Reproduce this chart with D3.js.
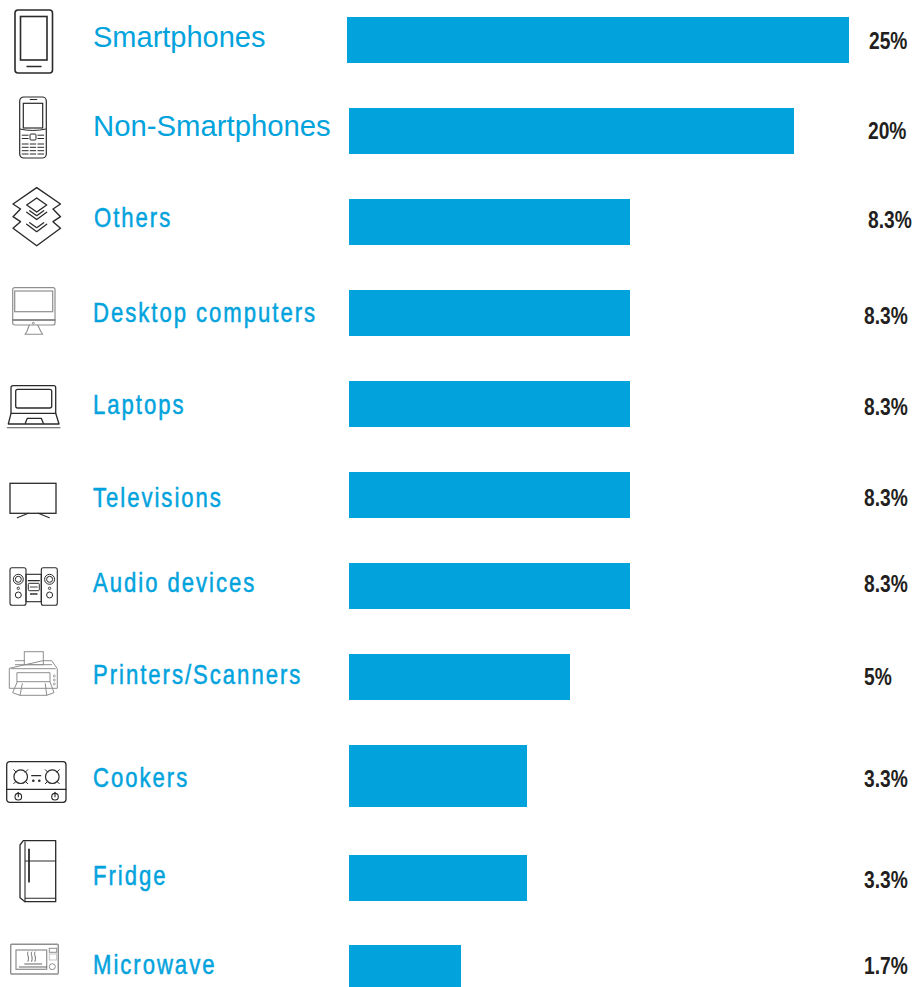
<!DOCTYPE html>
<html>
<head>
<meta charset="utf-8">
<script src="https://cdn.jsdelivr.net/npm/d3@7/dist/d3.min.js"></script>
<style>
html,body{margin:0;padding:0;background:#fff}
svg{display:block}
</style>
</head>
<body>
<div id="chart"></div>
<script>
// Chart data
const categories = ["Smartphones","Non-Smartphones","Others","Desktop computers","Laptops","Televisions","Audio devices","Printers/Scanners","Cookers","Fridge","Microwave"];
const shares = [25,20,8.3,8.3,8.3,8.3,8.3,5,3.3,3.3,1.7];
const shareLabels = ["25%","20%","8.3%","8.3%","8.3%","8.3%","8.3%","5%","3.3%","3.3%","1.7%"];

const W = 914, H = 987;
const BLUE = "#02a3dd", INK = "#231f20";

// Rows are unevenly spaced, so each vertical position comes from an ordinal scale.
const barTop = d3.scaleOrdinal(categories, [17,108,199,290,381,472,563,654,745,855,945]);
const barHeight = d3.scaleOrdinal(categories, [46,46,46,46,46,46,46,46,62,46,42]);
const barLeft = d3.scaleOrdinal(categories, [347,349,349,349,349,349,349,349,349,349,349]);
const labelBase = d3.scaleOrdinal(categories, [47,136,227,322,414,507,592,684,787,885,974]);
const valueX = d3.scaleOrdinal(categories, [869,868,868,864,864,864,864,864,864,864,864]);
const valueBase = d3.scaleOrdinal(categories, [49,139,228,324,415,506,592,685,787,888,974]);

// Bar length is a compressed, piecewise function of the share.
const barLength = d3.scaleLinear()
  .domain([0,1.7,3.3,5,8.3,20,25])
  .range([0,112,178,221,281,445,502]);

const svg = d3.select("#chart").append("svg").attr("width",W).attr("height",H);

svg.append("g").selectAll("rect")
  .data(categories)
  .join("rect")
  .attr("x",d=>barLeft(d))
  .attr("y",d=>barTop(d))
  .attr("width",(d,i)=>barLength(shares[i]))
  .attr("height",d=>barHeight(d))
  .attr("fill",BLUE);

// Category names: the first two rows use a plain sans, the others a condensed, spaced setting.
svg.append("g").selectAll("text")
  .data(categories)
  .join("text")
  .attr("transform",(d,i)=>`translate(${i==2?94:93},${labelBase(d)}) scale(${i<2?1:0.82},1)`)
  .attr("fill",BLUE)
  .attr("stroke",(d,i)=>i<2?"none":BLUE)
  .attr("stroke-width",0.5)
  .style("font-family","'Liberation Sans',sans-serif")
  .style("font-size",(d,i)=>i==0?"29px":i==1?"29.3px":"27px")
  .style("letter-spacing",(d,i)=>i<2?"0":"2.4px")
  .text(d=>d);

svg.append("g").selectAll("text")
  .data(categories)
  .join("text")
  .attr("transform",d=>`translate(${valueX(d)},${valueBase(d)}) scale(0.8,1)`)
  .attr("fill",INK)
  .style("font-family","'Liberation Sans',sans-serif")
  .style("font-weight","700")
  .style("font-size","24px")
  .text((d,i)=>shareLabels[i]);

// Pictograms, drawn as outlined paths in page units.
const ink = "#2a2a2a", grey = "#8e8e8e";
const line = (g,d,c=ink,w=1.3)=>g.append("path").attr("d",d).attr("fill","none").attr("stroke",c).attr("stroke-width",w).attr("stroke-linejoin","round").attr("stroke-linecap","round");
const box = (g,x,y,w,h,r=0,c=ink,sw=1.3)=>g.append("rect").attr("x",x).attr("y",y).attr("width",w).attr("height",h).attr("rx",r).attr("fill","none").attr("stroke",c).attr("stroke-width",sw);
const ring = (g,x,y,r,c=ink,sw=1.2)=>g.append("circle").attr("cx",x).attr("cy",y).attr("r",r).attr("fill","none").attr("stroke",c).attr("stroke-width",sw);
const icons = svg.append("g");

// Smartphone
{ const g = icons.append("g").attr("transform","translate(15,10)");
  box(g,0,0,37.5,63,3,ink,1.6);
  box(g,5.5,6.5,26.5,43.5,0,ink,1.6);
  line(g,"M12 56.5H26",ink,1.4);
}
// Keypad phone
{ const g = icons.append("g").attr("transform","translate(19.7,97)");
  box(g,0,0,26.6,61,4,ink,1.2);
  box(g,3.6,6.3,19.4,24.7,0,ink,1.2);
  line(g,"M10.5 2.5H17",ink,1.2);
  line(g,"M0 32Q13 35 26.6 32",ink,1);
  box(g,10.3,37,6,6,1,ink,1);
  [38.2,41.5].forEach(y=>line(g,`M2.5 ${y}H8.5M18.2 ${y}H24`,ink,1));
  [47,50.3,53.7,57].forEach(y=>line(g,`M2.5 ${y}H8.5M10.5 ${y}H16M18.2 ${y}H24`,ink,1));
}
// Stacked layers
{ const g = icons.append("g").attr("transform","translate(13,187.7)");
  line(g,"M23.7 0L47.5 16.3L40 21.3L47.5 29L40 34L47.5 40.6L23.7 58L0 40.6L7.5 34L0 29L7.5 21.3L0 16.3Z",ink,1.4);
  line(g,"M23.7 10.3L33.7 17.3L23.7 24.3L13.7 17.3Z",ink,1.4);
  line(g,"M13.7 24.5L23.7 31.8L33.7 24.5M16.7 23L23.7 28L30.7 23",ink,1.3);
  line(g,"M13.7 36.5L23.7 44L33.7 36.5M16.7 35L23.7 40L30.7 35",ink,1.3);
}
// Desktop computer
{ const g = icons.append("g").attr("transform","translate(12.7,287.7)");
  box(g,0,0,42.3,37.3,2,grey,1.2);
  box(g,2,3.3,38,20.7,0,grey,1.2);
  line(g,"M0 32.3H42.3",grey,1.8);
  ring(g,20.6,35.6,1,grey,1);
  line(g,"M16.6 37.3L14 44.3L12.3 46.6H30L28.4 44.3L25 37.3",grey,1.1);
}
// Laptop
{ const g = icons.append("g").attr("transform","translate(7.3,385.7)");
  line(g,"M3.7 27.6V2Q3.7 0 5.7 0H46.4Q48.4 0 48.4 2V27.6");
  box(g,8.4,3.6,36,18.7,2);
  line(g,"M3.7 27.6L1 38.3H51.7L48.4 27.6Z");
  line(g,"M18 37.6L20 32.6H34L36 37.6");
  line(g,"M0 42H52.7","#555",1.1);
}
// Television
{ const g = icons.append("g").attr("transform","translate(10,483.3)");
  box(g,0,0,46,30,0,ink,1.3);
  line(g,"M7.3 34.4L18.3 30M28.3 30L39.3 34.4",ink,1.2);
}
// Audio system
{ const g = icons.append("g").attr("transform","translate(10,567.7)");
  [0,31.3].forEach(dx=>{
    box(g,dx,0,16,37.6,2,ink,1.1);
    ring(g,dx+8.3,11.6,5,ink,1);
    ring(g,dx+8.3,11.6,3,ink,1);
    ring(g,dx+8.3,20.6,1.2,ink,.9);
    ring(g,dx+8.3,27.3,3,ink,1);
  });
  box(g,16,6.6,15.3,27.4,0,ink,1.1);
  line(g,"M18.3 13H29.3",ink,1.3);
  box(g,18.3,15.6,11,7.4,1,ink,1);
  line(g,"M20.3 19.3H27.3",ink,.9);
  line(g,"M20.5 26.3H22M23 26.3H24.5M25.5 26.3H27",ink,1.3);
}
// Printer
{ const g = icons.append("g").attr("transform","translate(9.3,651.7)");
  g.append("rect").attr("x",15).attr("y",0).attr("width",19).attr("height",13).attr("fill","#fff").attr("stroke",grey).attr("stroke-width",1);
  line(g,"M6 9H15M34 9H42.4L48 17V36.6H0V17Z",grey,1);
  line(g,"M2 17H46M6 13H42.4",grey,1);
  line(g,"M8 21H40.7V30H8Z",grey,1);
  line(g,"M8 30L3.4 41L10.7 43.6H37.4L44.7 41L40.7 30",grey,1);
  line(g,"M13 32L10.7 43.6M36 32L37.4 43.6",grey,1);
  [24.3,28.3,32.3].forEach(y=>ring(g,45,y,1,grey,.8));
}
// Gas cooker
{ const g = icons.append("g").attr("transform","translate(6.7,761.7)");
  box(g,0,0,59.3,40.6,3,ink,1.3);
  line(g,"M0 27.6H59.3");
  [14,45.6].forEach(x=>{
    ring(g,x,15,6.8,ink,1.2);
    line(g,`M${x-7} 8L${x-4.5} 10.5M${x+7} 8L${x+4.5} 10.5M${x-7} 22L${x-4.5} 19.5M${x+7} 22L${x+4.5} 19.5`,ink,1);
  });
  [11.6,48.3].forEach(x=>{
    ring(g,x,35,3.3,ink,1.1);
    line(g,`M${x} 30.6V35`,ink,1.1);
  });
  line(g,"M25 14H34",ink,1.2);
  g.selectAll(null).data([26.6,32.6]).join("circle").attr("cx",d=>d).attr("cy",19).attr("r",1.3).attr("fill",ink);
}
// Fridge
{ const g = icons.append("g").attr("transform","translate(19.3,840.7)");
  line(g,"M4 0H36.4V61H5.7L0.7 57V4.3Z");
  line(g,"M5.7 1V61M5.7 20.3H36.4M5.7 57.6H36.4",ink,1.1);
  line(g,"M9.7 8.6V41",ink,1.8);
}
// Microwave
{ const g = icons.append("g").attr("transform","translate(10.7,944.3)");
  box(g,0,0,47.6,29.7,1,grey,1.4);
  box(g,5.3,5.7,30.7,19.3,0,grey,1.2);
  box(g,38.6,4,7.4,4,0,grey,1);
  box(g,38.6,9.7,7.4,6,0,"#bdbdbd",.9);
  ring(g,41.6,22.4,3,grey,1);
  ["M17.3 7.7C15.5 10 19 12 17.3 17","M21 7.7C19.2 10 22.7 12 21 17","M24.3 7.7C22.5 10 26 12 24.3 17"].forEach(d=>line(g,d,"#666",1));
  line(g,"M8.6 22.7H36M14 19.7H31","#666",1);
}
</script>
</body>
</html>
